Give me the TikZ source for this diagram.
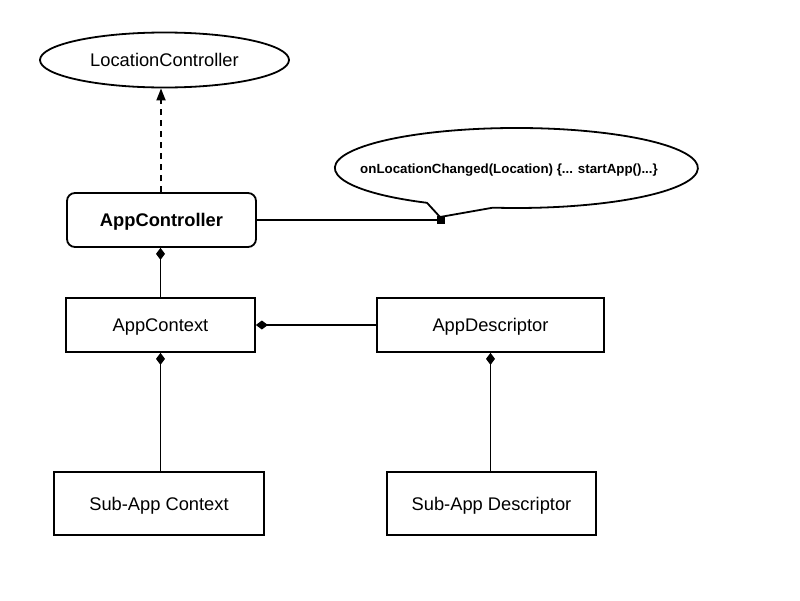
\documentclass[tikz,border=0pt]{standalone}
\usepackage{fontspec}
\setmainfont{Liberation Sans}
\usetikzlibrary{arrows.meta,shapes.geometric,calc}
\begin{document}
\begin{tikzpicture}[x=1pt,y=-1pt,
  lw/.style={line width=1.8pt},
  box/.style={draw,lw,rectangle,inner sep=0pt,text depth=0pt,font=\fontsize{18.3}{20}\selectfont},
  rbox/.style={box,rounded corners=8pt,font=\fontsize{18.3}{20}\selectfont\bfseries},
  conn/.style={lw},
  comp/.style={lw,-{Diamond[length=12pt,width=9pt]}},
  dep/.style={lw,dash pattern=on 6pt off 5pt,-{Triangle[length=12pt,width=9pt]}}
]
\useasboundingbox (0,0) rectangle (800,600);
\fill[white] (0,0) rectangle (800,600);

\node[draw,lw,ellipse,minimum width=249pt,minimum height=55pt,inner sep=0pt,font=\fontsize{18.3}{20}\selectfont] (lc) at (164.5,60) {LocationController};

\node[rbox,minimum width=189pt,minimum height=54pt] (ac) at (161.5,220) {AppController};
\node[box,minimum width=189pt,minimum height=54pt] (ctx) at (160.5,325) {AppContext};
\node[box,minimum width=227pt,minimum height=54pt] (desc) at (490.5,325) {AppDescriptor};
\node[box,minimum width=210pt,minimum height=63pt] (sctx) at (159,503.5) {Sub-App Context};
\node[box,minimum width=209pt,minimum height=63pt] (sdesc) at (491.5,503.5) {Sub-App Descriptor};

% speech bubble
\coordinate (tip) at (440,217);
\coordinate (bl) at (427,202.8);
\draw[lw,line join=miter] (tip) -- (bl) arc[start angle=119.5,end angle=457.4,x radius=181.5,y radius=40] -- cycle;
\node[font=\fontsize{13.3}{15}\selectfont\bfseries] (note) at (509,170) {onLocationChanged(Location) \{... startApp()...\}};
\node[fill,rectangle,minimum size=8pt,inner sep=0pt] (sq) at (441,220) {};

% connectors
\draw[dep] (ac.north -| lc.south) ++(-3.5,0) coordinate (d0) -- (d0 |- lc.south);
\draw[conn] (ac.east) -- (sq.center);
\draw[comp] (ctx.north) -- (ctx.north |- ac.south);
\draw[comp] (desc.west) -- (ctx.east);
\draw[comp] (sctx.north -| ctx.south) -- (ctx.south);
\draw[comp] (sdesc.north -| desc.south) -- (desc.south);
\end{tikzpicture}
\end{document}
